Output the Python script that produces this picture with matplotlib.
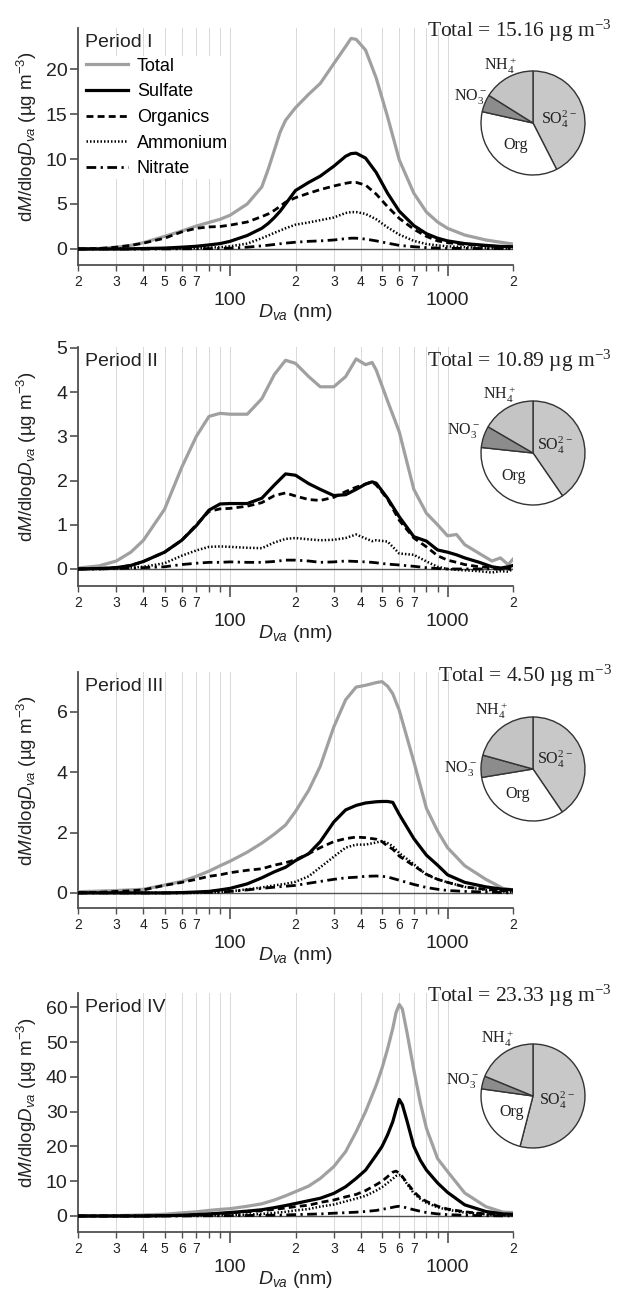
import numpy as np
import matplotlib
matplotlib.use("Agg")
import matplotlib.pyplot as plt
from matplotlib.ticker import FixedLocator, FuncFormatter, FixedFormatter

plt.rcParams['font.family'] = ['Liberation Sans', 'DejaVu Sans']
plt.rcParams['mathtext.fontset'] = 'custom'
plt.rcParams['mathtext.rm'] = 'Liberation Sans'
plt.rcParams['mathtext.it'] = 'Liberation Sans:italic'
plt.rcParams['mathtext.default'] = 'regular'

# ---- Period I ----
d_p1 = [20, 25, 30, 35, 40, 50, 60, 70, 80, 90, 100, 120, 140, 150, 160, 170, 180, 200, 230,
        260, 300, 340, 360, 380, 420, 470, 530, 600, 700, 800, 900, 1000, 1200, 1500, 1700,
        2000]
total_p1 = [0, 0.05, 0.2, 0.4, 0.7, 1.4, 2.0, 2.55, 2.95, 3.3, 3.75, 5.0, 6.9, 8.9, 11.0, 13.0,
            14.3, 15.7, 17.2, 18.4, 20.6, 22.5, 23.4, 23.3, 22.1, 19.0, 14.7, 9.9, 6.2, 4.1,
            3.0, 2.3, 1.55, 1.0, 0.8, 0.55]
sulfate_p1 = [0, 0, 0, 0.02, 0.05, 0.1, 0.2, 0.3, 0.45, 0.6, 0.85, 1.5, 2.3, 2.85, 3.5, 4.2,
              5.0, 6.5, 7.4, 8.1, 9.2, 10.3, 10.6, 10.65, 10.1, 8.5, 6.2, 4.2, 2.6, 1.7, 1.2,
              0.9, 0.6, 0.4, 0.3, 0.25]
organics_p1 = [0, 0.05, 0.2, 0.4, 0.65, 1.2, 1.9, 2.3, 2.45, 2.5, 2.65, 3.0, 3.6, 3.9, 4.3,
               4.75, 5.2, 5.7, 6.2, 6.6, 7.0, 7.3, 7.4, 7.4, 7.1, 6.1, 4.7, 3.4, 2.2, 1.4, 0.9,
               0.7, 0.5, 0.35, 0.3, 0.25]
ammonium_p1 = [0, 0, 0, 0, 0.01, 0.02, 0.05, 0.1, 0.15, 0.2, 0.3, 0.6, 1.2, 1.5, 1.8, 2.05,
               2.3, 2.7, 2.95, 3.2, 3.5, 4.0, 4.1, 4.1, 3.9, 3.3, 2.4, 1.6, 0.9, 0.55, 0.4,
               0.3, 0.2, 0.1, 0.08, 0.05]
nitrate_p1 = [0, 0, 0, 0, 0, 0.01, 0.02, 0.03, 0.04, 0.06, 0.1, 0.2, 0.35, 0.42, 0.5, 0.58,
              0.65, 0.75, 0.85, 0.9, 1.0, 1.15, 1.2, 1.2, 1.1, 0.9, 0.65, 0.4, 0.25, 0.15,
              0.1, 0.08, 0.06, 0.05, 0.05, 0.05]

# ---- Period II ----
d_p2 = [20, 25, 30, 35, 40, 50, 60, 70, 80, 90, 100, 120, 140, 160, 180, 200, 230, 260, 300,
        340, 380, 420, 450, 470, 530, 600, 700, 800, 900, 1000, 1100, 1200, 1400, 1600, 1750,
        1900, 2000]
total_p2 = [0.02, 0.07, 0.18, 0.38, 0.65, 1.35, 2.3, 3.0, 3.45, 3.52, 3.5, 3.5, 3.85, 4.4,
            4.72, 4.65, 4.35, 4.12, 4.12, 4.35, 4.75, 4.62, 4.67, 4.5, 3.8, 3.1, 1.8, 1.26,
            1.0, 0.75, 0.78, 0.55, 0.35, 0.18, 0.25, 0.1, 0.22]
sulfate_p2 = [0, 0.01, 0.03, 0.08, 0.17, 0.38, 0.65, 0.98, 1.33, 1.47, 1.48, 1.48, 1.6, 1.9,
              2.15, 2.12, 1.93, 1.8, 1.66, 1.68, 1.8, 1.92, 1.97, 1.94, 1.6, 1.18, 0.73, 0.63,
              0.43, 0.38, 0.32, 0.25, 0.15, 0.05, 0.02, 0.05, 0.08]
organics_p2 = [0, 0.01, 0.03, 0.08, 0.17, 0.38, 0.65, 1.0, 1.3, 1.36, 1.37, 1.42, 1.5, 1.66,
               1.72, 1.65, 1.57, 1.55, 1.62, 1.75, 1.85, 1.92, 1.97, 1.9, 1.58, 1.1, 0.7, 0.5,
               0.3, 0.2, 0.15, 0.1, 0.05, 0.03, 0.02, 0.02, 0.02]
ammonium_p2 = [0, 0, 0.01, 0.03, 0.05, 0.13, 0.3, 0.42, 0.5, 0.51, 0.5, 0.48, 0.47, 0.6, 0.68,
               0.7, 0.67, 0.65, 0.66, 0.7, 0.78, 0.69, 0.63, 0.65, 0.62, 0.35, 0.32, 0.17,
               0.05, 0.0, -0.02, -0.03, -0.05, -0.08, -0.05, -0.06, 0.0]
nitrate_p2 = [0, 0, 0.01, 0.02, 0.03, 0.05, 0.1, 0.13, 0.15, 0.15, 0.16, 0.15, 0.15, 0.17,
              0.2, 0.2, 0.18, 0.15, 0.16, 0.18, 0.17, 0.16, 0.15, 0.14, 0.11, 0.09, 0.06,
              0.03, 0.01, 0, 0, 0, 0, 0, 0, 0, 0]

# ---- Period III ----
d_p3 = [20, 25, 30, 35, 40, 50, 60, 70, 80, 90, 100, 120, 140, 160, 180, 200, 230, 260, 300,
        340, 380, 420, 470, 500, 530, 560, 600, 700, 800, 900, 1000, 1200, 1500, 1800, 2000]
total_p3 = [0.04, 0.06, 0.08, 0.1, 0.12, 0.26, 0.38, 0.55, 0.72, 0.9, 1.05, 1.35, 1.65, 1.95,
            2.25, 2.7, 3.4, 4.2, 5.5, 6.4, 6.82, 6.88, 6.97, 7.0, 6.85, 6.6, 6.05, 4.35, 2.8,
            2.05, 1.5, 0.9, 0.45, 0.15, 0.1]
sulfate_p3 = [0, 0, 0, 0, 0, 0, 0.01, 0.03, 0.05, 0.1, 0.15, 0.3, 0.5, 0.7, 0.85, 1.07, 1.3,
              1.7, 2.35, 2.75, 2.9, 2.98, 3.02, 3.03, 3.03, 3.0, 2.6, 1.8, 1.25, 0.92, 0.6,
              0.35, 0.2, 0.12, 0.1]
organics_p3 = [0, 0.02, 0.05, 0.07, 0.1, 0.25, 0.35, 0.45, 0.55, 0.6, 0.67, 0.75, 0.8, 0.92,
               1.0, 1.1, 1.3, 1.5, 1.7, 1.8, 1.85, 1.83, 1.78, 1.7, 1.55, 1.45, 1.22, 0.9,
               0.62, 0.45, 0.35, 0.2, 0.12, 0.07, 0.05]
ammonium_p3 = [0, 0, 0, 0, 0, 0, 0, 0, 0.01, 0.03, 0.05, 0.12, 0.18, 0.25, 0.3, 0.37, 0.55,
               0.85, 1.2, 1.5, 1.6, 1.6, 1.67, 1.72, 1.65, 1.55, 1.32, 0.95, 0.6, 0.45, 0.35,
               0.2, 0.1, 0.05, 0.03]
nitrate_p3 = [0, 0, 0, 0, 0, 0, 0, 0.01, 0.02, 0.03, 0.05, 0.1, 0.15, 0.19, 0.22, 0.25, 0.32,
              0.38, 0.45, 0.5, 0.52, 0.55, 0.56, 0.55, 0.53, 0.48, 0.42, 0.28, 0.18, 0.12,
              0.08, 0.05, 0.03, 0.01, 0]

# ---- Period IV ----
d_p4 = [20, 25, 30, 35, 40, 50, 60, 70, 80, 90, 100, 120, 140, 160, 180, 200, 230, 260, 300,
        340, 380, 420, 470, 500, 530, 560, 580, 600, 620, 650, 700, 750, 800, 900, 1000, 1200,
        1500, 1800, 2000]
total_p4 = [0, 0.05, 0.1, 0.2, 0.3, 0.5, 0.9, 1.2, 1.6, 1.9, 2.1, 2.8, 3.5, 4.6, 5.8, 7.0, 8.6,
            10.8, 14.2, 18.5, 24.2, 30.0, 37.6, 42.5, 48.0, 53.9, 58.5, 60.8, 59.5, 53.0, 42.0,
            32.5, 25.2, 16.5, 12.8, 6.6, 2.7, 1.1, 1.0]
sulfate_p4 = [0, 0, 0, 0, 0, 0.1, 0.2, 0.4, 0.6, 0.8, 1.0, 1.4, 1.8, 2.4, 3.0, 3.6, 4.4, 5.1,
              6.5, 8.4, 10.8, 13.2, 17.5, 20.0, 23.3, 27.1, 30.5, 33.5, 32.0, 27.5, 20.0, 16.0,
              13.2, 9.5, 6.8, 3.2, 1.3, 0.6, 0.5]
organics_p4 = [0, 0, 0, 0, 0, 0.1, 0.2, 0.35, 0.5, 0.7, 0.9, 1.2, 1.5, 1.9, 2.3, 2.7, 3.1, 3.9,
               4.6, 5.5, 6.2, 7.3, 9.0, 10.0, 11.3, 12.6, 12.9, 12.3, 11.3, 9.6, 7.0, 5.2, 4.2,
               2.8, 2.0, 1.2, 0.6, 0.35, 0.3]
ammonium_p4 = [0, 0, 0, 0, 0, 0.05, 0.1, 0.15, 0.2, 0.25, 0.3, 0.4, 0.6, 0.9, 1.2, 1.6, 2.0,
               2.7, 3.3, 4.2, 5.0, 5.8, 7.3, 8.3, 9.5, 10.7, 11.5, 11.8, 11.2, 9.3, 6.5, 4.9,
               3.8, 2.5, 1.8, 1.0, 0.5, 0.25, 0.2]
nitrate_p4 = [0, 0, 0, 0, 0, 0, 0, 0.05, 0.07, 0.08, 0.1, 0.15, 0.2, 0.25, 0.3, 0.4, 0.5, 0.6,
              0.8, 0.95, 1.1, 1.3, 1.6, 1.9, 2.2, 2.5, 2.7, 2.8, 2.7, 2.3, 1.8, 1.35, 1.0, 0.6,
              0.4, 0.2, 0.1, 0.05, 0.05]

# pie fractions (%), order: SO4, Org, NO3, NH4 (clockwise from top)
pie_labels = ['SO$_4^{2-}$', 'Org', 'NO$_3^-$', 'NH$_4^+$']
pie_p1 = [42.5, 36.0, 5.4, 16.1]
pie_p2 = [40.4, 36.3, 6.7, 16.6]
pie_p3 = [40.5, 31.9, 6.9, 20.7]
pie_p4 = [54.0, 23.2, 4.0, 18.8]

totals = ['15.16', '10.89', '4.50', '23.33']
periods = ['Period I', 'Period II', 'Period III', 'Period IV']
series_names = ['Total', 'Sulfate', 'Organics', 'Ammonium', 'Nitrate']

W, H = 621, 1291
fig = plt.figure(figsize=(W / 100, H / 100), dpi=100)

# axes boxes in pixels: (top, bottom), ylim, yticks
panels = [
    dict(box=(28, 265), ylim=(-1.78, 24.56), yticks=[0, 5, 10, 15, 20],
         d=d_p1, ys=[total_p1, sulfate_p1, organics_p1, ammonium_p1, nitrate_p1],
         pie=pie_p1, pie_cy=123, total_base=37,
         lab_pos=[(0.5, 0.08), (-0.33, -0.42), (-1.21, 0.5), (-0.62, 1.1)]),
    dict(box=(347, 586), ylim=(-0.385, 5.02), yticks=[0, 1, 2, 3, 4, 5],
         d=d_p2, ys=[total_p2, sulfate_p2, organics_p2, ammonium_p2, nitrate_p2],
         pie=pie_p2, pie_cy=453, total_base=367,
         lab_pos=[(0.42, 0.14), (-0.37, -0.44), (-1.33, 0.44), (-0.65, 1.13)]),
    dict(box=(672, 908), ylim=(-0.5, 7.32), yticks=[0, 2, 4, 6],
         d=d_p3, ys=[total_p3, sulfate_p3, organics_p3, ammonium_p3, nitrate_p3],
         pie=pie_p3, pie_cy=769, total_base=682,
         lab_pos=[(0.42, 0.19), (-0.3, -0.48), (-1.4, 0.0), (-0.8, 1.12)]),
    dict(box=(993, 1232), ylim=(-4.6, 64.1), yticks=[0, 10, 20, 30, 40, 50, 60],
         d=d_p4, ys=[total_p4, sulfate_p4, organics_p4, ammonium_p4, nitrate_p4],
         pie=pie_p4, pie_cy=1096, total_base=1002,
         lab_pos=[(0.46, -0.08), (-0.42, -0.31), (-1.35, 0.3), (-0.68, 1.1)]),
]

styles = [
    dict(color='#a0a0a0', lw=2.3, ls='-'),
    dict(color='black', lw=2.3, ls='-'),
    dict(color='black', lw=2.0, ls=(0, (2.5, 1.5))),
    dict(color='black', lw=1.8, ls=(0, (0.6, 0.8))),
    dict(color='black', lw=2.0, ls=(0, (3.5, 1.6, 0.8, 1.6))),
]

minor_locs = [20, 30, 40, 50, 60, 70, 80, 90, 200, 300, 400, 500, 600, 700, 800, 900, 2000]


def minor_fmt(v, pos):
    lead = int(round(v / 10 ** np.floor(np.log10(v))))
    return str(lead) if 2 <= lead <= 7 else ''


ax_left, ax_right = 78, 513
spine_c = '#505050'

for i, p in enumerate(panels):
    top, bot = p['box']
    ax = fig.add_axes([ax_left / W, 1 - bot / H, (ax_right - ax_left) / W, (bot - top) / H])
    ax.set_xscale('log')
    for y, st, name in zip(p['ys'], styles, series_names):
        ax.plot(p['d'], y, color=st['color'], lw=st['lw'], linestyle=st['ls'], label=name,
                zorder=3)
    ax.axhline(0, color=spine_c, lw=1.0, zorder=2)
    ax.set_xlim(20, 2000)
    ax.set_ylim(*p['ylim'])
    ax.set_yticks(p['yticks'])

    ax.xaxis.set_major_locator(FixedLocator([100, 1000]))
    ax.xaxis.set_major_formatter(FixedFormatter(['100', '1000']))
    ax.xaxis.set_minor_locator(FixedLocator(minor_locs))
    ax.xaxis.set_minor_formatter(FuncFormatter(minor_fmt))
    ax.grid(True, which='both', axis='x', color='#d8d8d8', lw=0.7, zorder=0)

    ax.tick_params(axis='x', which='major', length=8, width=1.2, pad=11.5, labelsize=14,
                   colors=spine_c, labelcolor='#222222')
    ax.tick_params(axis='x', which='minor', length=4, width=1.0, pad=3, labelsize=10,
                   colors=spine_c, labelcolor='#222222')
    ax.tick_params(axis='y', which='major', length=6, width=1.2, pad=1.5, labelsize=14,
                   colors=spine_c, labelcolor='#222222')
    for s in ['top', 'right']:
        ax.spines[s].set_visible(False)
    for s in ['left', 'bottom']:
        ax.spines[s].set_color(spine_c)
        ax.spines[s].set_linewidth(1.3)

    ax.set_xlabel(r'$\it{D}_{\it{va}}$ (nm)', fontsize=14, color='#222222')
    ax.xaxis.set_label_coords(0.5, -0.155)
    ax.set_ylabel(r'd$\it{M}$/dlog$\it{D}_{\it{va}}$ (µg m$^{-3}$)', fontsize=13.5,
                  color='#222222')
    ax.yaxis.set_label_coords(-0.09, 0.54)

    ax.text(0.016, 0.92, periods[i], transform=ax.transAxes, fontsize=14, va='baseline',
            color='#222222', zorder=6)

    if i == 0:
        leg = ax.legend(loc='upper left', bbox_to_anchor=(0.015, 0.882), frameon=True,
                        facecolor='white', edgecolor='none', framealpha=1, borderpad=0.1,
                        handlelength=2.3, handletextpad=0.5, labelspacing=0.48, fontsize=13,
                        borderaxespad=0)
        leg.set_zorder(5)

    # total mass text
    fig.text(612 / W, 1 - p['total_base'] / H, 'Total = ' + totals[i] + ' µg m$^{-3}$',
             ha='right', va='baseline', fontsize=15.5, family='Liberation Serif',
             color='#222222')

    # pie chart inset
    r = 52 * 1.03
    pax = fig.add_axes([(533 - r) / W, 1 - (p['pie_cy'] + r) / H, 2 * r / W, 2 * r / H])
    pax.pie(p['pie'], colors=['#c8c8c8', 'white', '#8c8c8c', '#c4c4c4'], startangle=90,
            counterclock=False, radius=1.0,
            wedgeprops=dict(edgecolor='#333333', linewidth=1.0))
    pax.set_xlim(-1.03, 1.03)
    pax.set_ylim(-1.03, 1.03)
    for lab, (lx, ly) in zip(pie_labels, p['lab_pos']):
        pax.text(lx, ly, lab, ha='center', va='center', fontsize=11.5,
                 family='Liberation Serif', color='#222222', clip_on=False)

fig.savefig('out.png', dpi=100)
